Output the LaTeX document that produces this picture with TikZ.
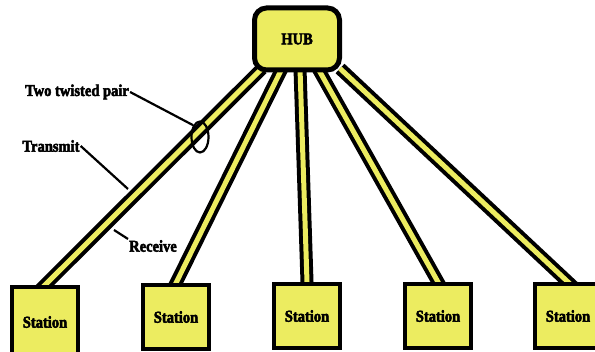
\documentclass[tikz,border=0pt]{standalone}
\usepackage{fontspec}
\setmainfont{Liberation Serif}[BoldFeatures={FakeBold=3,FakeStretch=0.88}]
\usetikzlibrary{shapes.geometric,backgrounds,calc}

\definecolor{padyellow}{RGB}{236,236,96}
\tikzset{
  station/.style={draw=black,line width=4pt,fill=padyellow,minimum width=66pt,%
    minimum height=64pt,font=\fontsize{16.5}{18}\selectfont\bfseries},
  cable/.style={line width=13pt,black,shorten >=-8pt,%
    postaction={draw=padyellow,line width=5pt}},
  pointer/.style={line width=2.2pt},
  tag/.style={font=\fontsize{16.5}{18}\selectfont\bfseries,inner sep=1pt}
}

\begin{document}
\begin{tikzpicture}[x=1pt,y=-1pt]
      \useasboundingbox (0,0) rectangle (595,352) ;
      \node[draw=black,line width=5pt,fill=padyellow,rounded corners=12pt,%
        minimum width=85pt,minimum height=62pt,%
        font=\fontsize{16.5}{18}\selectfont\bfseries] (hub) at (297,39) {HUB} ;
      \node[station,minimum height=70pt] (st1) at (45,322) {Station} ;
      \node[station] (st2) at (176,317) {Station} ;
      \node[station] (st3) at (307,316) {Station} ;
      \node[station] (st4) at (438,316) {Station} ;
      \node[station] (st5) at (568,316) {Station} ;
      % cables behind the boxes
      \begin{scope}[on background layer]
        \foreach \dx/\st in {-35/st1,-15/st2,3/st3,21/st4,43/st5}
          \draw[cable] ($(hub.south)+(\dx,-4)$) -- (\st.north) ;
      \end{scope}
      \node[draw=black,ellipse,line width=2.2pt,minimum width=17pt,%
        minimum height=31pt,inner sep=0pt] (twist) at (200,137) {} ;
      \node[tag] (tp) at (77,92) {Two twisted pair} ;
      \node[tag] (tx) at (51,146) {Transmit} ;
      \node[tag] (rx) at (153,246) {Receive} ;
      \coordinate (txend) at (128,189) ;
      \coordinate (rxend) at (114,230) ;
      \draw[pointer] (tp.east) -- (twist.120) ;
      \draw[pointer] (tx.east) -- (txend) ;
      \draw[pointer] (rxend) -- (rx.north west) ;
    \end{tikzpicture}
\end{document}
